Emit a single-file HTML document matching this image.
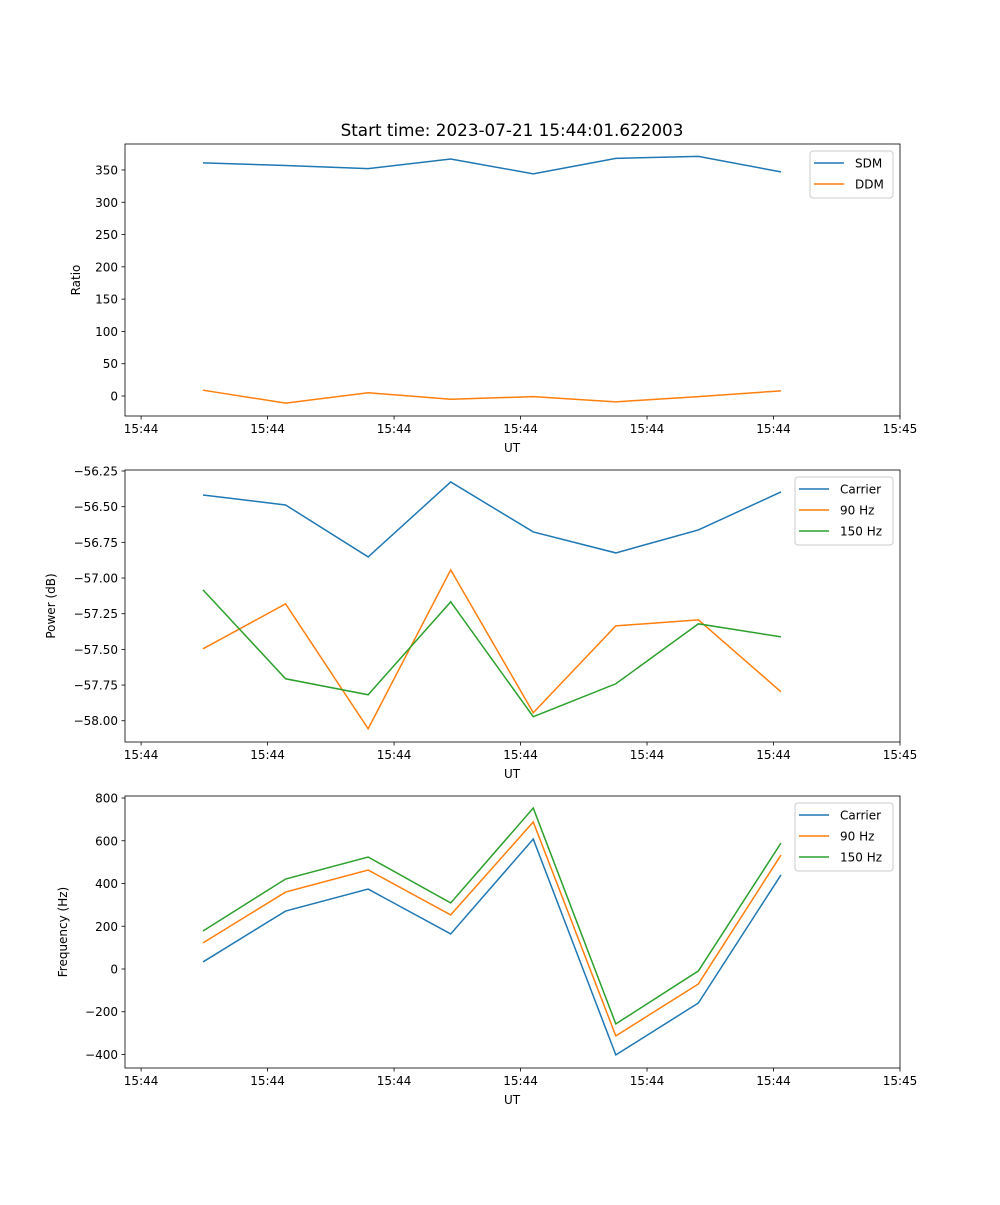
<!DOCTYPE html>
<html><head><meta charset="utf-8"><style>
body{margin:0;background:#fff;font-family:"Liberation Sans","DejaVu Sans",sans-serif}
svg text{font-family:"DejaVu Sans","Liberation Sans",sans-serif;font-size:12px;fill:#000}
</style></head><body>
<svg id="fig" width="1000" height="1200"></svg>
<script>
const xIdx=[0,1,2,3,4,5,6,7];
const xTickPos=[-0.75,0.782,2.314,3.846,5.378,6.91,8.442];
const xTickLabels=["15:44","15:44","15:44","15:44","15:44","15:44","15:45"];
const sdm=[361,357,352,367,344,368,371,347];
const ddm=[9,-11,5,-5,-1,-9,-1,8];
const ratioTicks=[0,50,100,150,200,250,300,350];
const pwrCarrier=[-56.418,-56.488,-56.852,-56.327,-56.677,-56.824,-56.663,-56.397];
const pwr90=[-57.496,-57.181,-58.056,-56.943,-57.944,-57.335,-57.293,-57.797];
const pwr150=[-57.083,-57.706,-57.818,-57.167,-57.972,-57.741,-57.321,-57.412];
const pwrTicks=[-58.00,-57.75,-57.50,-57.25,-57.00,-56.75,-56.50,-56.25];
const pwrTickLabels=["\u221258.00","\u221257.75","\u221257.50","\u221257.25","\u221257.00","\u221256.75","\u221256.50","\u221256.25"];
const frqCarrier=[33,271,374,164,608,-402,-159,440];
const frq90=[122,360,463,253,688,-313,-70,533];
const frq150=[178,421,524,309,753,-257,-9,589];
const frqTicks=[-400,-200,0,200,400,600,800];
const frqTickLabels=["\u2212400","\u2212200","0","200","400","600","800"];

const NS="http://www.w3.org/2000/svg",svg=document.getElementById('fig');
function mk(t,a,p){const e=document.createElementNS(NS,t);for(const k in a)e.setAttribute(k,a[k]);(p||svg).appendChild(e);return e;}
const X0=125,X1=900,xmin=-0.945,xmax=8.442;
const sx=v=>X0+(v-xmin)/(xmax-xmin)*(X1-X0);
const C=["#1f77b4","#ff7f0e","#2ca02c"];

function panel(name,top,bottom,ymin,ymax,yt,ytl,series,names,ylabel,leg){
 const g=mk('g',{});
 
 
 const sy=v=>bottom-(v-ymin)/(ymax-ymin)*(bottom-top);
 series.forEach((s,i)=>{
  const p=mk('polyline',{points:s.map((v,j)=>sx(xIdx[j])+','+sy(v)).join(' '),fill:'none',stroke:C[i],'stroke-width':1.5},g);
  
  
 });
 const f=mk('rect',{x:X0,y:top,width:X1-X0,height:bottom-top,fill:'none',stroke:'#000','stroke-width':0.8},g);
 
 
 xTickPos.forEach((v,i)=>{const x=sx(v);mk('line',{x1:x,x2:x,y1:bottom,y2:bottom+3.5,stroke:'#000','stroke-width':0.8},g);
  const t=mk('text',{x:x,y:bottom+17,'text-anchor':'middle'},g);t.textContent=xTickLabels[i];
  
  });
 yt.forEach((v,i)=>{const y=sy(v);mk('line',{x1:X0-3.5,x2:X0,y1:y,y2:y,stroke:'#000','stroke-width':0.8},g);
  const t=mk('text',{x:X0-7,y:y+4.5,'text-anchor':'end'},g);t.textContent=ytl[i];
  
  });
 const xl=mk('text',{x:512,y:bottom+36,'text-anchor':'middle'},g);xl.textContent='UT';
 
 
 const cy=(top+bottom)/2;
 const yl=mk('text',{x:0,y:0,'text-anchor':'middle',transform:`translate(${leg.yx},${cy}) rotate(-90)`},g);yl.textContent=ylabel;
 
 
 const lg=mk('g',{},g);
 
 
 mk('rect',{x:leg.x,y:top+7,width:893-leg.x,height:names.length*21+5,rx:3,fill:'#fff','fill-opacity':0.8,stroke:'#ccc'},lg);
 names.forEach((n,i)=>{const y=top+19+i*21;
  mk('line',{x1:leg.x+4,x2:leg.x+34,y1:y,y2:y,stroke:C[i],'stroke-width':1.5},lg);
  const t=mk('text',{x:leg.x+45,y:y+4.5},lg);t.textContent=n;
  
  });
}
const tt=mk('text',{x:512,y:136,'text-anchor':'middle',style:'font-size:16.8px'});tt.textContent='Start time: 2023-07-21 15:44:01.622003';


panel('ratio-panel',144,416,-30.96,390.2,ratioTicks,ratioTicks.map(String),[sdm,ddm],['SDM','DDM'],'Ratio',{x:810,yx:80});
panel('power-panel',470,742,-58.149,-56.243,pwrTicks,pwrTickLabels,[pwrCarrier,pwr90,pwr150],['Carrier','90 Hz','150 Hz'],'Power (dB)',{x:795,yx:55});
panel('frequency-panel',796,1068,-463.2,809.4,frqTicks,frqTickLabels,[frqCarrier,frq90,frq150],['Carrier','90 Hz','150 Hz'],'Frequency (Hz)',{x:795,yx:67});
</script>
</body></html>
